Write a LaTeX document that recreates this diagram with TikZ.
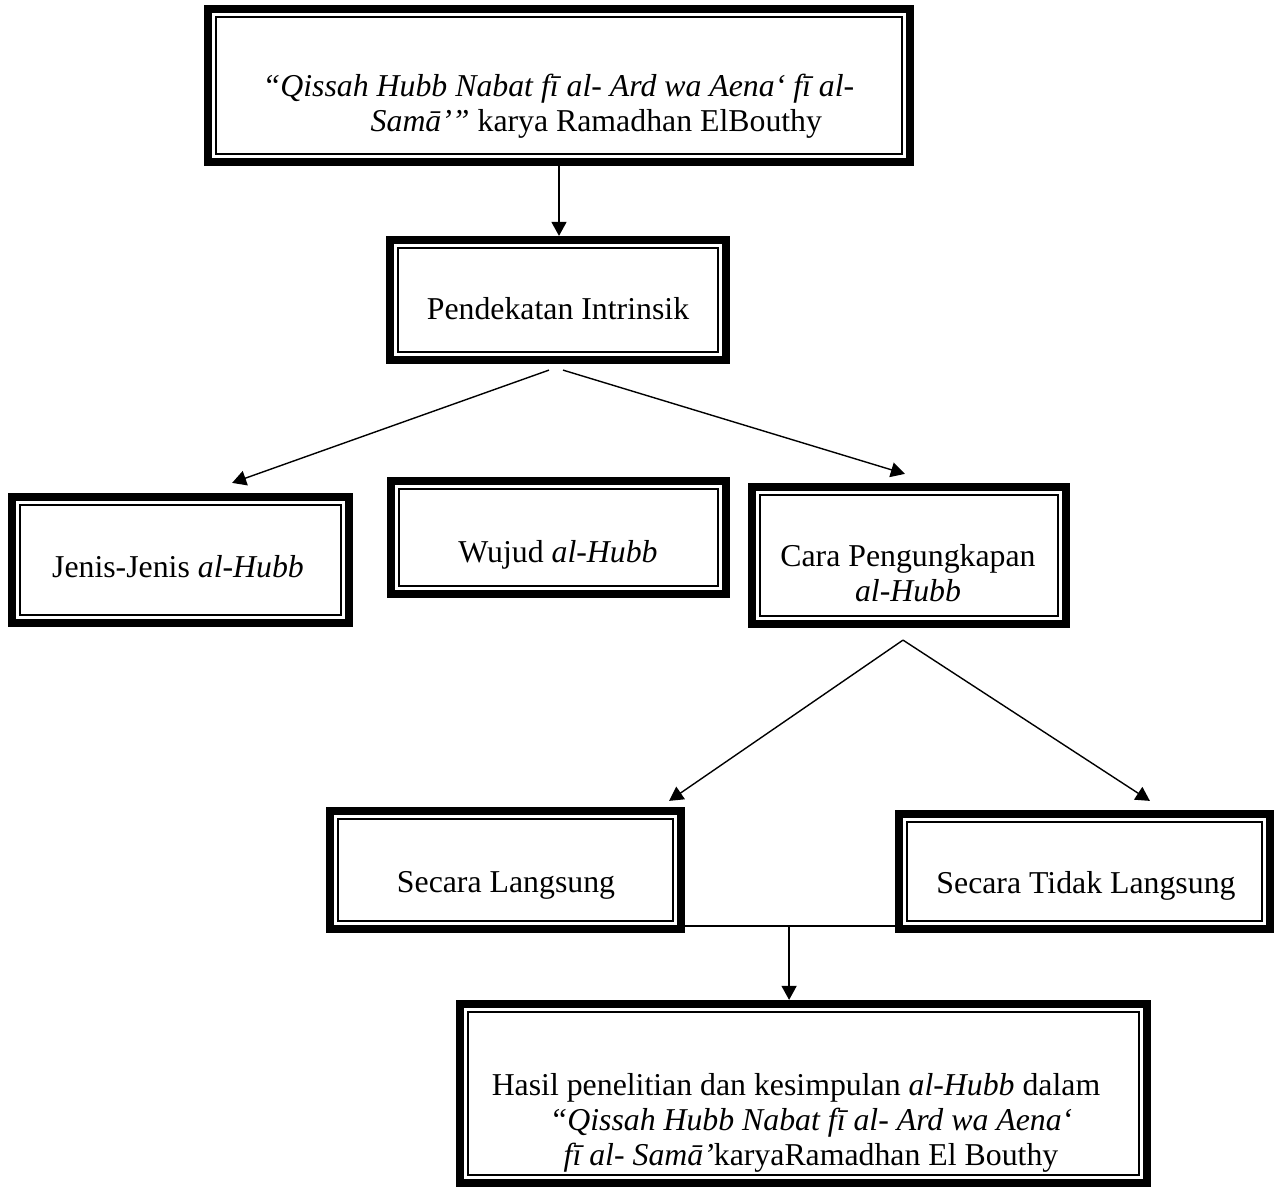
\documentclass[tikz,border=0pt]{standalone}
\usepackage{fontspec}
\setmainfont{Liberation Serif}
\usetikzlibrary{arrows.meta,calc}
\begin{document}
\begin{tikzpicture}[x=0.5pt,y=-0.5pt,
  box/.style={draw,line width=4.1pt,inner sep=0pt,outer sep=2.05pt},
  txt/.style={anchor=base,inner sep=0pt,font=\fontsize{15.9}{17.5}\selectfont},
  conn/.style={line width=0.7pt},
  arr/.style={conn,-{Triangle[length=7pt,width=7.5pt]}},
  innerline/.style={line width=0.95pt}]
\useasboundingbox (0,0) rectangle (1275,1187);

% boxes
\node[box,minimum width=351pt,minimum height=76.5pt] (b1) at (559,85.5) {};
\node[box,minimum width=168pt,minimum height=60pt] (b2) at (558,300) {};
\node[box,minimum width=168.5pt,minimum height=63pt] (b3) at (180.5,560) {};
\node[box,minimum width=167.5pt,minimum height=56.5pt] (b4) at (558.5,537.5) {};
\node[box,minimum width=157pt,minimum height=68.5pt] (b5) at (909,555.5) {};
\node[box,minimum width=175.5pt,minimum height=59pt] (b6) at (505.5,870) {};
\node[box,minimum width=185.5pt,minimum height=57.5pt] (b7) at (1084.5,871.5) {};
\node[box,minimum width=343.5pt,minimum height=89.5pt] (b8) at (803.5,1093.5) {};

\foreach \n in {b1,b2,b3,b4,b5,b6,b7,b8}
  \draw[innerline] ([xshift=6.1pt,yshift=-6.1pt]\n.north west) rectangle ([xshift=-6.1pt,yshift=6.1pt]\n.south east);

% texts (base = baseline of the last line)
\node[txt,align=left] (t1) at (558.5,132) {\textit{“Qissah Hubb Nabat fī al- Ard wa Aena‘ fī al-}\\ \hspace*{54pt}\textit{Samā’”} karya Ramadhan ElBouthy};
\node[txt] (t2) at (558,320) {Pendekatan Intrinsik};
\node[txt] (t3) at (178,578) {Jenis-Jenis \textit{al-Hubb}};
\node[txt] (t4) at (558,562) {Wujud \textit{al-Hubb}};
\node[txt,align=center] (t5) at (908,602) {Cara Pengungkapan\\ \textit{al-Hubb}};
\node[txt] (t6) at (506,892) {Secara Langsung};
\node[txt] (t7) at (1086,893) {Secara Tidak Langsung};
\node[txt,align=center] (t8) at (796,1165) {Hasil penelitian dan kesimpulan \textit{al-Hubb} dalam\\ \hspace*{15pt}\textit{“Qissah Hubb Nabat fī al- Ard wa Aena‘}\\ \hspace*{15pt}\textit{fī al- Samā’}karyaRamadhan El Bouthy};

% connectors
\draw[arr] (b1.south) -- (b1.south |- b2.north);
\draw[arr] ($(b2.south)+(-9,6)$) -- ($(b3.north east)+(-121,-10)$);
\draw[arr] ($(b2.south)+(5,6)$) -- ($(b5.north west)+(157,-9)$);
\coordinate (apex) at ($(b5.south)+(-6,12)$);
\draw[arr] (apex) -- ($(b6.north east)+(-16,-6)$);
\draw[arr] (apex) -- ($(b7.north west)+(255,-9)$);
\draw[conn] ($(b6.south east)+(0,-7)$) -- ($(b7.south west)+(0,-7)$);
\coordinate (m) at ($(b6.south east)+(104,-7)$);
\draw[arr] (m) -- (m |- b8.north);
\end{tikzpicture}
\end{document}
